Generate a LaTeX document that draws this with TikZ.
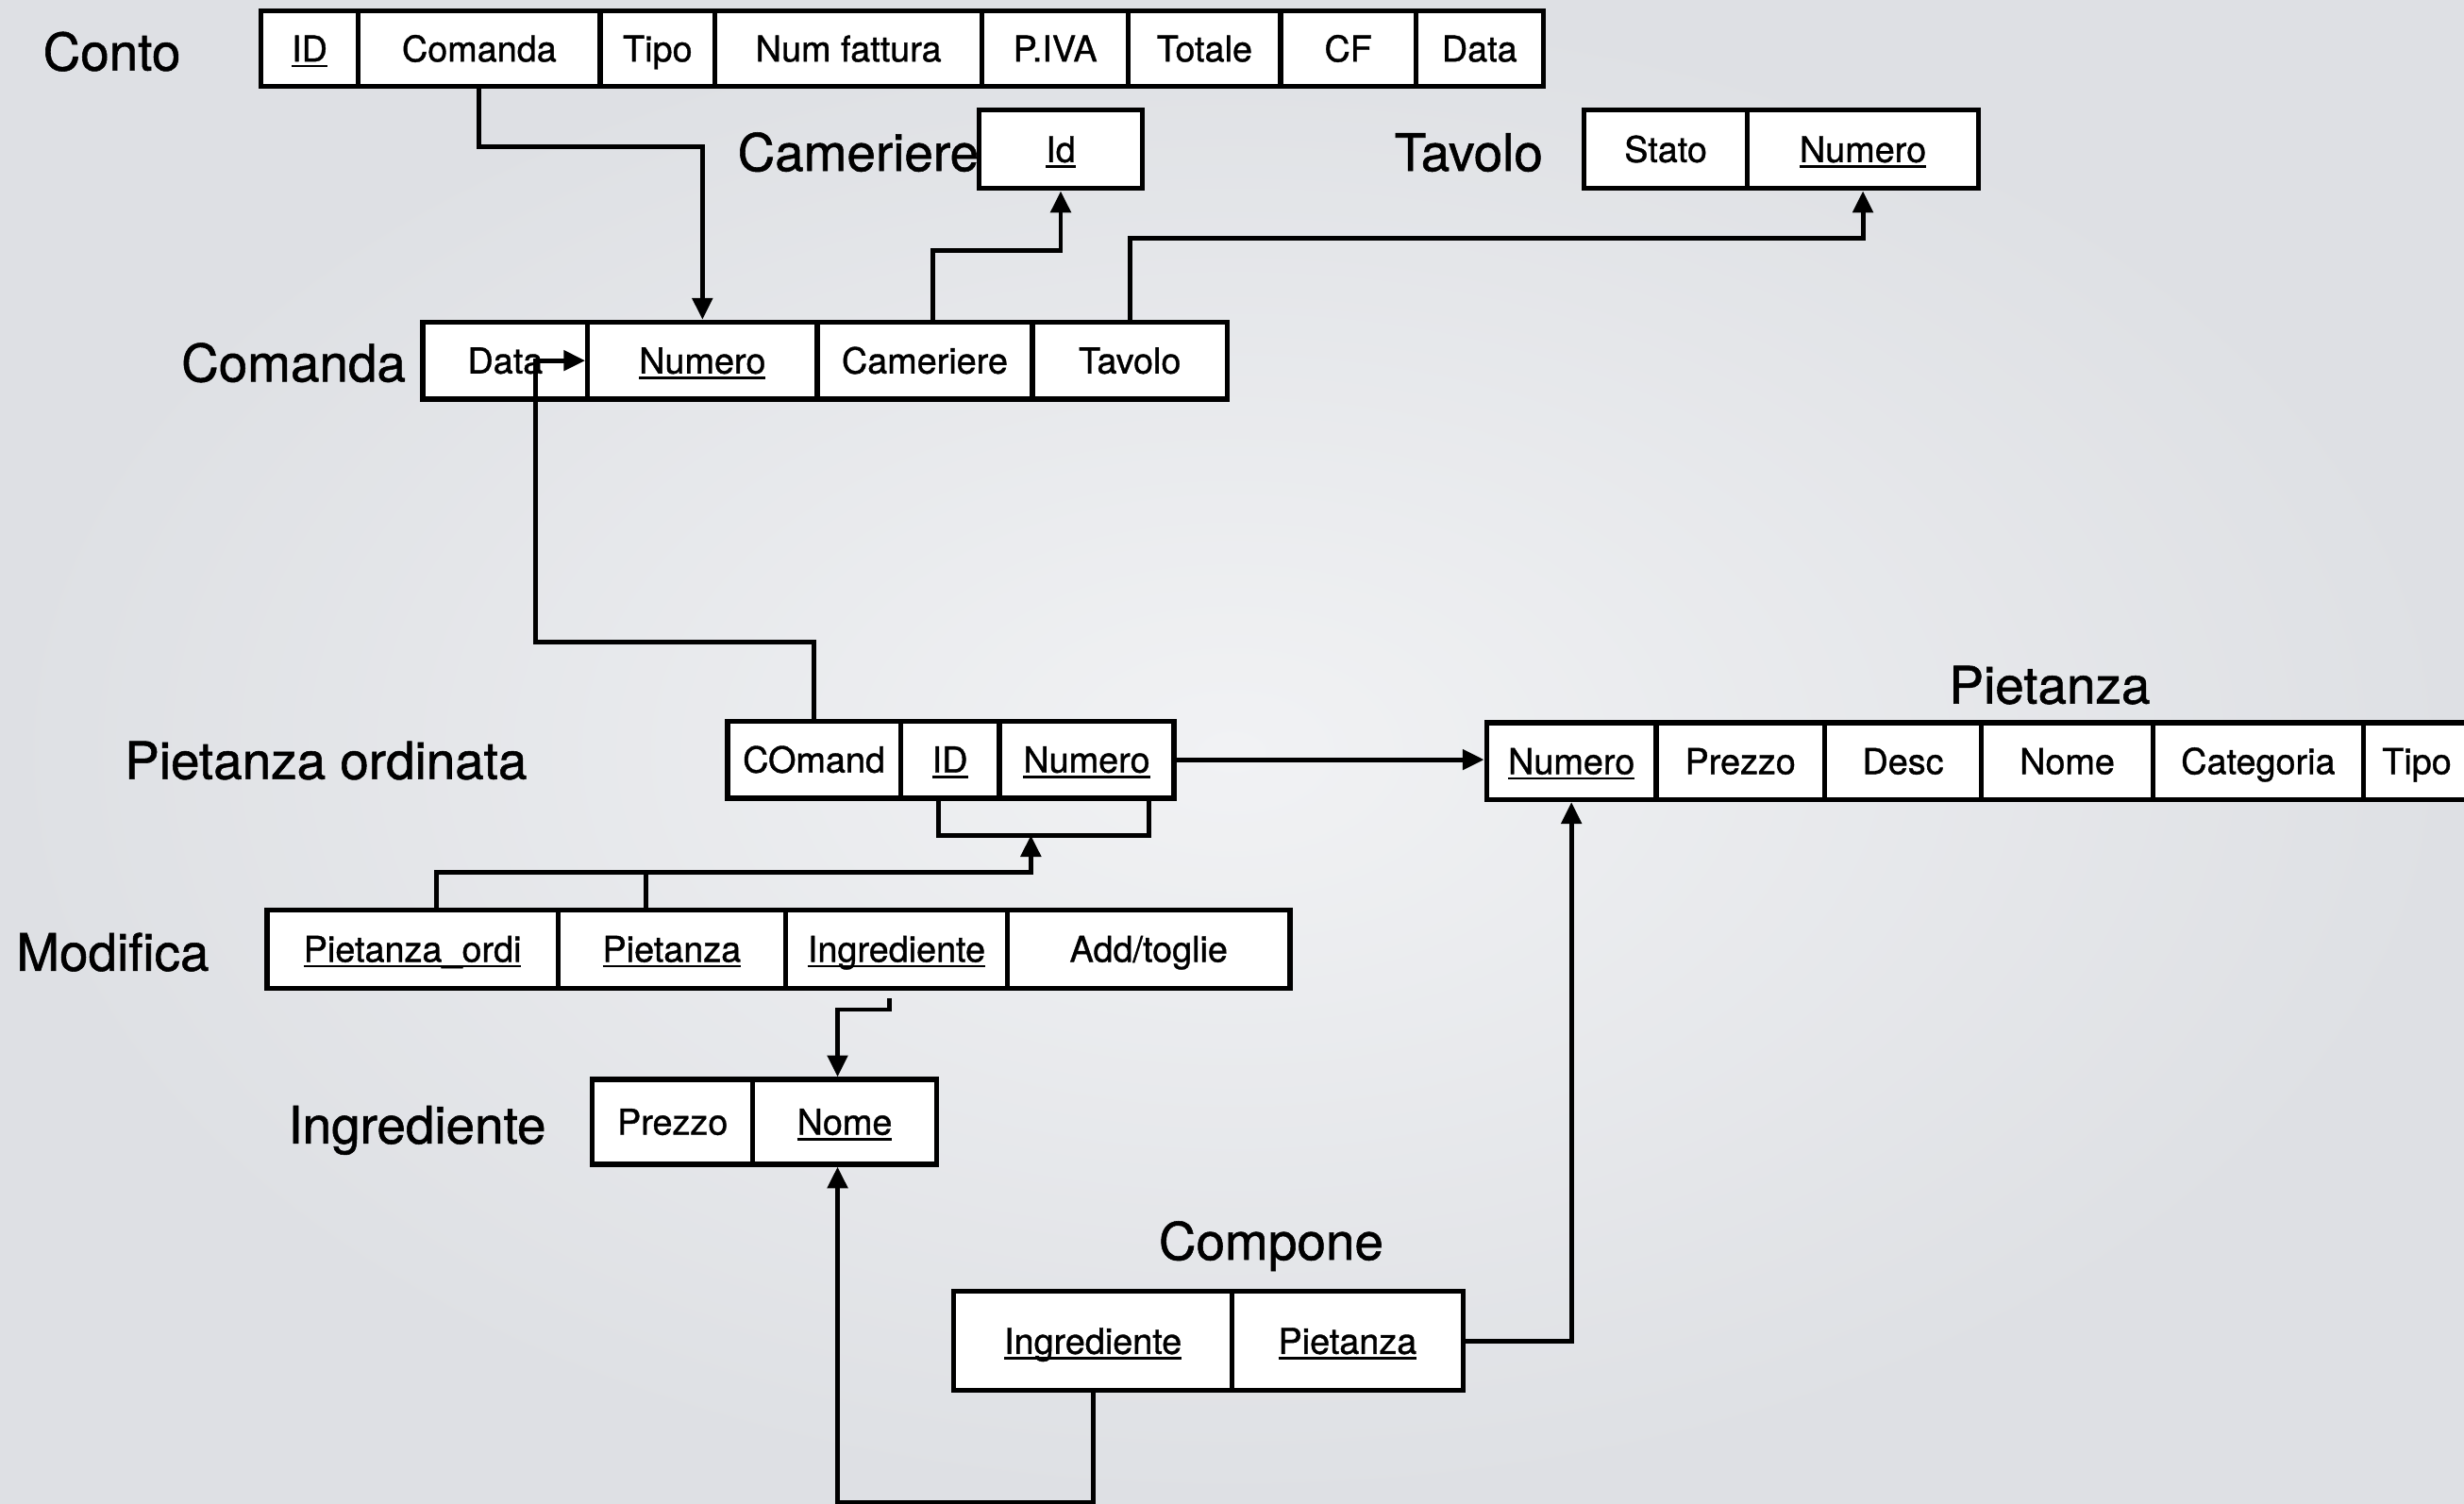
\documentclass[tikz,border=0pt]{standalone}
\usepackage{fontspec}
\setmainfont{TeX Gyre Heros}[RawFeature={embolden=1.0}]
\usetikzlibrary{arrows.meta,calc}
\definecolor{bgin}{RGB}{241,242,244}
\definecolor{bgout}{RGB}{222,224,228}
% underlined key attribute
\newcommand\pk[1]{\setbox0=\hbox{#1}\rlap{\rule[-0.16em]{\wd0}{0.065em}}\box0}

\begin{document}
\begin{tikzpicture}[x=0.016652cm,y=-0.016652cm,
  cell/.style={draw=black, fill=white, line width=1.5pt, inner sep=0pt,
    font=\fontsize{10.75}{12}\selectfont, text height=7.74pt, text depth=0pt},
  sz/.style 2 args={minimum width=#1*0.016652cm, minimum height=#2*0.016652cm},
  title/.style={anchor=west, inner sep=0pt,
    font=\fontsize{15.6}{18}\selectfont, text height=11.2pt, text depth=0pt},
  link/.style={line width=1.4pt},
  conn/.style={link, -{Triangle[length=6.5pt,width=6pt]}}]

\useasboundingbox (0,0) rectangle (1568,957);
\shade[inner color=bgin, outer color=bgout] (0,0) rectangle (1568,957);

% table names
\node[title] (tConto) at (27,33) {Conto};
\node[title] (tCam) at (469,97) {Cameriere};
\node[title] (tTav) at (887,97) {Tavolo};
\node[title] (tComanda) at (115,231) {Comanda};
\node[title] (tPO) at (79,484) {Pietanza ordinata};
\node[title] (tPie) at (1240,436) {Pietanza};
\node[title] (tMod) at (10,606) {Modifica};
\node[title] (tIng) at (183,716) {Ingrediente};
\node[title] (tComp) at (737,790) {Compone};

% Conto
\node[cell, sz={62}{48}] (kID) at (197,31) {\pk{ID}};
\node[cell, sz={154}{48}] (kCom) at (305,31) {Comanda};
\node[cell, sz={73}{48}] (kTipo) at (418.5,31) {Tipo};
\node[cell, sz={170}{48}] (kNum) at (540,31) {Num fattura};
\node[cell, sz={93}{48}] (kPiva) at (671.5,31) {P.IVA};
\node[cell, sz={97}{48}] (kTot) at (766.5,31) {Totale};
\node[cell, sz={86}{48}] (kCF) at (858,31) {CF};
\node[cell, sz={81}{48}] (kData) at (941.5,31) {Data};

% Cameriere
\node[cell, sz={104}{50}] (camId) at (675,95) {\pk{Id}};

% Tavolo
\node[cell, sz={104}{50}] (tavStato) at (1060,95) {Stato};
\node[cell, sz={147}{50}] (tavNum) at (1185.5,95) {\pk{Numero}};

% Comanda
\node[cell, sz={105}{49}] (cmData) at (321.5,229.5) {Data};
\node[cell, sz={146}{49}] (cmNum) at (447,229.5) {\pk{Numero}};
\node[cell, sz={137}{49}] (cmCam) at (588.5,229.5) {Cameriere};
\node[cell, sz={124}{49}] (cmTav) at (719,229.5) {Tavolo};

% Pietanza ordinata
\node[cell, sz={110}{49}] (poCom) at (518,483.5) {COmand};
\node[cell, sz={63}{49}] (poID) at (604.5,483.5) {\pk{ID}};
\node[cell, sz={111}{49}] (poNum) at (691.5,483.5) {\pk{Numero}};

% Pietanza
\node[cell, sz={108}{49}] (piNum) at (1000,484.5) {\pk{Numero}};
\node[cell, sz={107}{49}] (piPrezzo) at (1107.5,484.5) {Prezzo};
\node[cell, sz={100}{49}] (piDesc) at (1211,484.5) {Desc};
\node[cell, sz={109}{49}] (piNome) at (1315.5,484.5) {Nome};
\node[cell, sz={134}{49}] (piCat) at (1437,484.5) {Categoria};
\node[cell, sz={68}{49}] (piTipo) at (1538,484.5) {Tipo};

% Modifica
\node[cell, sz={185}{50}] (moPO) at (262.5,604) {\pk{Pietanza\_ordi}};
\node[cell, sz={145}{50}] (moPie) at (427.5,604) {\pk{Pietanza}};
\node[cell, sz={141}{50}] (moIng) at (570.5,604) {\pk{Ingrediente}};
\node[cell, sz={180}{50}] (moAdd) at (731,604) {Add/toglie};

% Ingrediente
\node[cell, sz={102}{54}] (inPrezzo) at (428,714) {Prezzo};
\node[cell, sz={117}{54}] (inNome) at (537.5,714) {\pk{Nome}};

% Compone
\node[cell, sz={177}{63}] (coIng) at (695.5,853.5) {\pk{Ingrediente}};
\node[cell, sz={147}{63}] (coPie) at (857.5,853.5) {\pk{Pietanza}};

% references
\draw[conn] (kCom.south) -- ++(0,37) -| (cmNum.north);
\draw[conn] ($(cmCam.north)+(5,0)$) -- ++(0,-44) -| (camId.south);
\draw[conn] (cmTav.north) -- ++(0,-52) -| (tavNum.south);
\draw[conn] (poCom.north) -- ++(0,-49) -- ++(-177,0) |- (cmNum.west);

\draw[link] ($(poID.south)+(-7.5,0)$) -- ++(0,22) -| ($(poNum.south)+(39.5,0)$);
\coordinate (brM) at ($(poID.south)+(51.5,22)$);
\draw[conn] ($(moPO.north)+(15.5,0)$) -- ++(0,-22) -| (brM);
\draw[link] ($(moPie.north)+(-16.5,0)$) -- ++(0,-22);

\draw[conn] (poNum.east) -- (poNum.east -| piNum.west);
\draw[conn] ($(moIng.south)+(-4.5,5)$) -- ++(0,7) -| ($(inNome.north)+(-4.5,0)$);
\draw[conn] (coPie.east) -| (piNum.south);
\draw[conn] (coIng.south) -- ++(0,70) -| ($(inNome.south)+(-4.5,0)$);

\end{tikzpicture}
\end{document}
